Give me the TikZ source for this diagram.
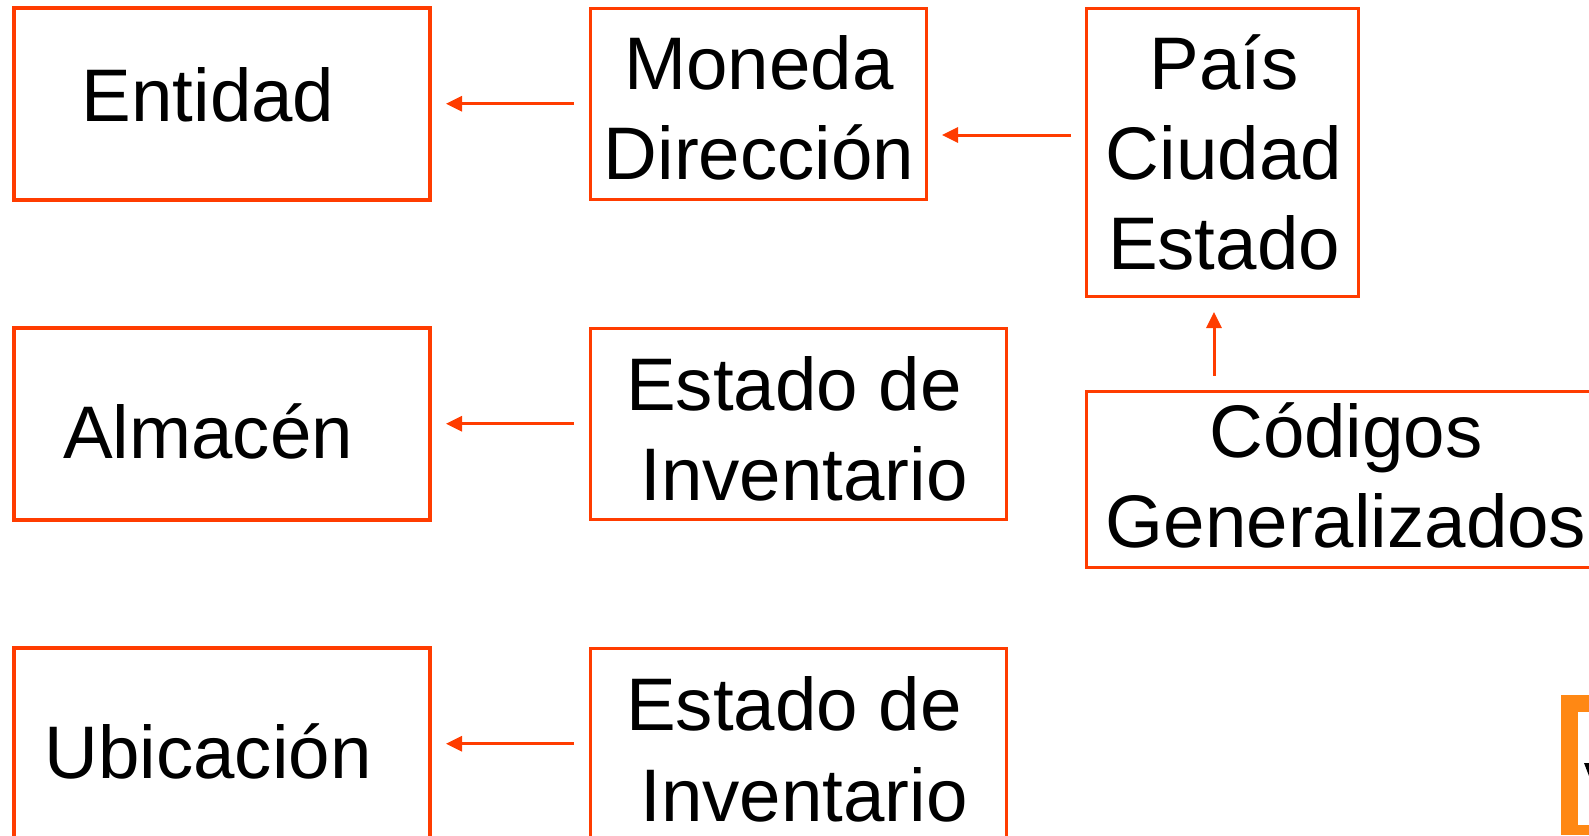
\documentclass[tikz,border=0pt]{standalone}
\usepackage{fontspec}
\setmainfont{Liberation Sans}
\usepackage{color}
\usetikzlibrary{arrows.meta}
\definecolor{rojizo}{RGB}{255,60,0}
\definecolor{naranja}{RGB}{255,136,20}
\tikzset{
	caja/.style={draw=rojizo, line width=3pt, inner sep=0pt},
	cajagruesa/.style={caja, line width=4pt},
	texto/.style={font=\fontsize{74.5}{90}\selectfont, align=center, inner sep=0pt, anchor=base},
	flecha/.style={draw=rojizo, line width=3pt, -{Triangle[length=16pt, width=15pt]}, shorten <=14.5pt, shorten >=14.5pt}
}
\begin{document}
\begin{tikzpicture}[x=1pt, y=-1pt]
	\useasboundingbox (0,0) rectangle (1589,835);
	\clip (0,0) rectangle (1589,835);
	% columna izquierda
	\node[cajagruesa, minimum width=415.5pt, minimum height=191.5pt] (entidad) at (221.75,103.75) {};
	\node[cajagruesa, minimum width=415.5pt, minimum height=191.5pt] (almacen) at (221.75,423.75) {};
	\node[cajagruesa, minimum width=415.5pt, minimum height=191.5pt] (ubicacion) at (221.75,743.75) {};
	\node[texto] (tentidad) at (208,121.6) {Entidad};
	\node[texto] (talmacen) at (208,458) {Almacén};
	\node[texto] (tubicacion) at (208,778) {Ubicación};
	% columna central
	\node[caja, minimum width=336pt, minimum height=191.5pt] (moneda) at (758,103.75) {};
	\node[caja, minimum width=416pt, minimum height=191.5pt] (inventario) at (798,423.75) {};
	\node[caja, minimum width=416pt, minimum height=191.5pt] (inventariob) at (798,743.75) {};
	\node[texto] (tmoneda) at (759,179.6) {Moneda\\Dirección};
	\node[texto] (testado) at (794,410) {Estado de};
	\node[texto] (tinv) at (804,500.6) {Inventario};
	\node[texto] (testadob) at (794,730.6) {Estado de};
	\node[texto] (tinvb) at (804,821) {Inventario};
	% columna derecha
	\node[caja, minimum width=271.5pt, minimum height=288pt] (pais) at (1222.25,152) {};
	\node[caja, minimum width=519pt, minimum height=176pt] (codigos) at (1346,479.5) {};
	\node[texto] (tpais) at (1224,269.6) {País\\Ciudad\\Estado};
	\node[texto] (tcodigos) at (1346,547) {Códigos\\Generalizados};
	% flechas
	\draw[flecha] (moneda) -- (entidad);
	\draw[flecha] (inventario) -- (almacen);
	\draw[flecha] (inventariob) -- (ubicacion);
	\draw[flecha] ([yshift=17pt]pais.west) -- ([yshift=-31.25pt]moneda.east);
	\draw[flecha] ([xshift=-132pt]codigos.north) -- ([xshift=-8.25pt]pais.south);
	% recorte de la esquina
	\fill[naranja] (1561,695) rectangle (1589,835);
	\fill[white] (1578,712) rectangle (1589,825);
	\fill[black] (1584,763) -- (1589,763) -- (1589,776) -- cycle;
\end{tikzpicture}
\end{document}
